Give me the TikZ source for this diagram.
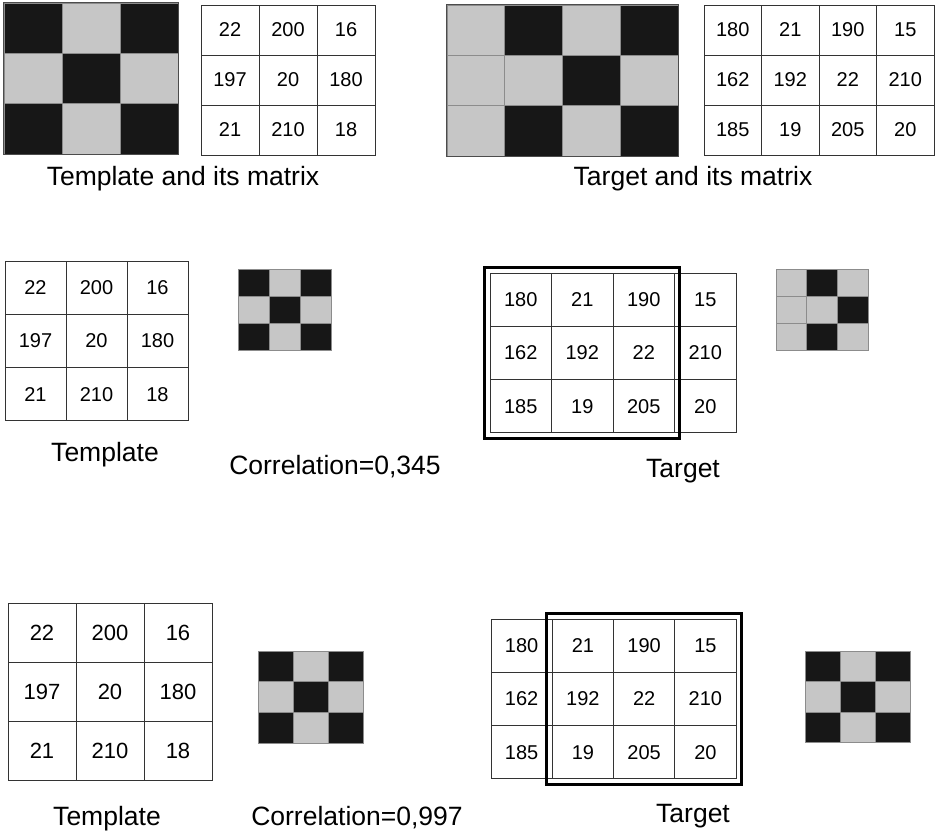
\documentclass[tikz,border=0pt]{standalone}
\usepackage{fontspec}
\setmainfont{Liberation Sans}
\usetikzlibrary{fit}

\definecolor{dk}{HTML}{171717}
\definecolor{lt}{HTML}{C6C6C6}

\begin{document}
\begin{tikzpicture}[x=1pt, y=-1pt,
    cell/.style={draw=black!80, line width=0.9pt, inner sep=0pt, font=\fontsize{20}{20}\selectfont},
    sq/.style={draw=black!45, line width=0.6pt, fill=#1, inner sep=0pt},
    rim/.style={draw=black!70, line width=0.8pt},
    window/.style={draw=black, line width=3pt, inner sep=5pt},
    caption/.style={anchor=base, font=\fontsize{26.5}{26.5}\selectfont}]
    \useasboundingbox (0,0) rectangle (936,832);
    % top row: template and target, each with its matrix
    \foreach \shade [count=\i from 0] in {dk,lt,dk, lt,dk,lt, dk,lt,dk} {
        \pgfmathtruncatemacro\ri{\i/3}
        \pgfmathtruncatemacro\ci{mod(\i,3)}
        \node[sq=\shade, minimum width=58pt, minimum height=50.3pt] (tpic-\ri-\ci) at ({4+(\ci+0.5)*58},{3+(\ri+0.5)*50.3}) {};
    }
    \draw[rim] (tpic-0-0.north west) rectangle (tpic-2-2.south east);
    \foreach \v [count=\i from 0] in {22,200,16, 197,20,180, 21,210,18} {
        \pgfmathtruncatemacro\ri{\i/3}
        \pgfmathtruncatemacro\ci{mod(\i,3)}
        \node[cell, minimum width=58pt, minimum height=50pt] (tmat-\ri-\ci) at ({201+(\ci+0.5)*58},{5+(\ri+0.5)*50}) {\v};
    }
    \node[caption] (tcap) at (183,185) {Template and its matrix};
    \foreach \shade [count=\i from 0] in {lt,dk,lt,dk, lt,lt,dk,lt, lt,dk,lt,dk} {
        \pgfmathtruncatemacro\ri{\i/4}
        \pgfmathtruncatemacro\ci{mod(\i,4)}
        \node[sq=\shade, minimum width=57.75pt, minimum height=50.3pt] (gpic-\ri-\ci) at ({447+(\ci+0.5)*57.75},{5+(\ri+0.5)*50.3}) {};
    }
    \draw[rim] (gpic-0-0.north west) rectangle (gpic-2-3.south east);
    \foreach \v [count=\i from 0] in {180,21,190,15, 162,192,22,210, 185,19,205,20} {
        \pgfmathtruncatemacro\ri{\i/4}
        \pgfmathtruncatemacro\ci{mod(\i,4)}
        \node[cell, minimum width=57.5pt, minimum height=50pt] (gmat-\ri-\ci) at ({704+(\ci+0.5)*57.5},{5+(\ri+0.5)*50}) {\v};
    }
    \node[caption] (gcap) at (693,185) {Target and its matrix};

    % middle row: window on the left of the target
    \foreach \v [count=\i from 0] in {22,200,16, 197,20,180, 21,210,18} {
        \pgfmathtruncatemacro\ri{\i/3}
        \pgfmathtruncatemacro\ci{mod(\i,3)}
        \node[cell, minimum width=61pt, minimum height=53.3pt] (mtpl-\ri-\ci) at ({5+(\ci+0.5)*61},{261+(\ri+0.5)*53.3}) {\v};
    }
    \foreach \shade [count=\i from 0] in {dk,lt,dk, lt,dk,lt, dk,lt,dk} {
        \pgfmathtruncatemacro\ri{\i/3}
        \pgfmathtruncatemacro\ci{mod(\i,3)}
        \node[sq=\shade, minimum width=31pt, minimum height=27pt] (mtpic-\ri-\ci) at ({238+(\ci+0.5)*31},{269+(\ri+0.5)*27}) {};
    }
    \foreach \v [count=\i from 0] in {180,21,190,15, 162,192,22,210, 185,19,205,20} {
        \pgfmathtruncatemacro\ri{\i/4}
        \pgfmathtruncatemacro\ci{mod(\i,4)}
        \node[cell, minimum width=61.5pt, minimum height=53.3pt] (mtgt-\ri-\ci) at ({490+(\ci+0.5)*61.5},{273+(\ri+0.5)*53.3}) {\v};
    }
    \node[window, fit=(mtgt-0-0)(mtgt-2-2)] (mwin) {};
    \foreach \shade [count=\i from 0] in {lt,dk,lt, lt,lt,dk, lt,dk,lt} {
        \pgfmathtruncatemacro\ri{\i/3}
        \pgfmathtruncatemacro\ci{mod(\i,3)}
        \node[sq=\shade, minimum width=30.7pt, minimum height=27pt] (mgpic-\ri-\ci) at ({776+(\ci+0.5)*30.7},{269+(\ri+0.5)*27}) {};
    }
    \node[caption] (mtcap) at (105,461) {Template};
    \node[caption] (mcorr) at (335,474) {Correlation=0,345};
    \node[caption] (mgcap) at (683,477) {Target};

    % bottom row: window on the right of the target
    \foreach \v [count=\i from 0] in {22,200,16, 197,20,180, 21,210,18} {
        \pgfmathtruncatemacro\ri{\i/3}
        \pgfmathtruncatemacro\ci{mod(\i,3)}
        \node[cell, font=\fontsize{22}{22}\selectfont, minimum width=68pt, minimum height=59.3pt] (btpl-\ri-\ci) at ({8+(\ci+0.5)*68},{603+(\ri+0.5)*59.3}) {\v};
    }
    \foreach \shade [count=\i from 0] in {dk,lt,dk, lt,dk,lt, dk,lt,dk} {
        \pgfmathtruncatemacro\ri{\i/3}
        \pgfmathtruncatemacro\ci{mod(\i,3)}
        \node[sq=\shade, minimum width=35pt, minimum height=30.7pt] (btpic-\ri-\ci) at ({258+(\ci+0.5)*35},{651+(\ri+0.5)*30.7}) {};
    }
    \foreach \v [count=\i from 0] in {180,21,190,15, 162,192,22,210, 185,19,205,20} {
        \pgfmathtruncatemacro\ri{\i/4}
        \pgfmathtruncatemacro\ci{mod(\i,4)}
        \node[cell, minimum width=61.25pt, minimum height=53.3pt] (btgt-\ri-\ci) at ({491+(\ci+0.5)*61.25},{619+(\ri+0.5)*53.3}) {\v};
    }
    \node[window, fit=(btgt-0-1)(btgt-2-3)] (bwin) {};
    \foreach \shade [count=\i from 0] in {dk,lt,dk, lt,dk,lt, dk,lt,dk} {
        \pgfmathtruncatemacro\ri{\i/3}
        \pgfmathtruncatemacro\ci{mod(\i,3)}
        \node[sq=\shade, minimum width=35pt, minimum height=30.5pt] (bgpic-\ri-\ci) at ({805+(\ci+0.5)*35},{651+(\ri+0.5)*30.5}) {};
    }
    \node[caption] (btcap) at (107,825) {Template};
    \node[caption] (bcorr) at (357,825) {Correlation=0,997};
    \node[caption] (bgcap) at (693,822) {Target};
\end{tikzpicture}
\end{document}
